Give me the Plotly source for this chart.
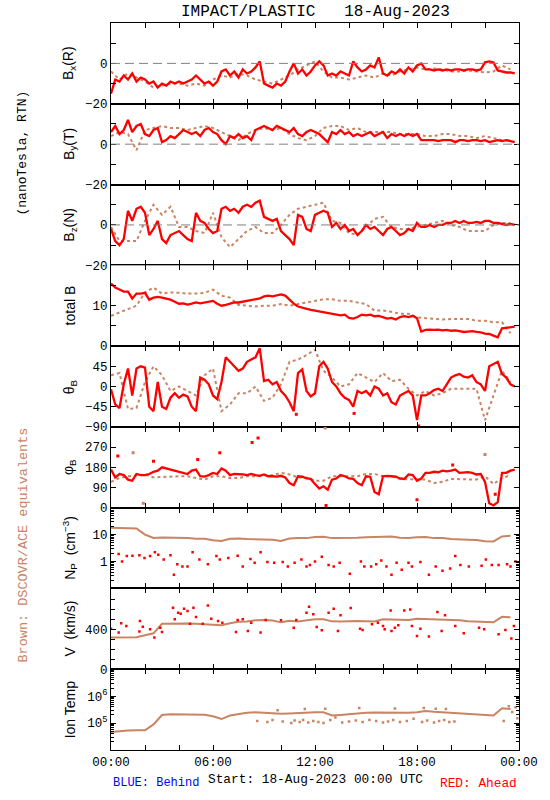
import pandas as pd
import plotly.graph_objects as go
from plotly.subplots import make_subplots

# ---------------- data ----------------
DAY0 = pd.Timestamp("2023-08-18 00:00")

# STEREO-A (red), 15-minute samples starting 00:00
red_bx = [-15, -8, -9, -6, -8, -5, -9, -7, -8, -10, -9, -12,
          -10, -11, -9, -10, -9, -10, -9, -8, -6, -8, -10, -9,
          -11, -9, -4, -3, -6, -4, -7, -3, -5, -4, -2, 1,
          -10, -11, -12, -10, -11, -9, -4, 0, -5, -3, -6, -4,
          -1, 1, -1, -6, -5, -6, -4, -5, -6, 1, -2, -4,
          -3, -1, -2, 3, -5, -6, -4, -5, -3, -5, -2, -4,
          -1, 0, -3, -3, -3.5, -3, -3.5, -3, -3.5, -3, -3, -3.5,
          -3, -3, -3.5, -3, 0.5, 1, 0.5, -3.5, -4, -4.5, -4.5, -5]
red_by = [6, 9, 5, 7, 12, 6, 9, 10, 5, 4, 7, 8,
          1, 2, 4, 3, 5, 7, 6, 5, 6, 4, 7, 8,
          6, 5, 2, 0, 4, 3, 5, 3, 4, 2, 7, 8,
          9, 8, 7, 9, 8, 7, 6, 8, 5, 4, 6, 7,
          6, 5, 3, 1, 6, 5, 7, 5, 6, 4, 5, 4,
          5, 6, 4, 5, 6, 3, 5, 4, 5, 4, 5, 4,
          5, 2, 2, 2, 2, 1.5, 2, 2, 2, 1, 2, 2,
          1.5, 2, 2, 1.5, 2, 1, 1.5, 2, 1.5, 2, 1.5, 1]
red_bz = [-2, -8, -10, -7, 7, 2, 8, 9, 6, -5, -2, 2,
          -7, -9, -5, -4, -3, -5, -7, -8, 6, 2, 1, -2,
          -4, -3, 8, 9, 7, 8, 6, 9, 10, 9, 11, 12,
          4, 3, 2, 3, -3, -5, -7, -10, 5, 4, -2, -3,
          5, 6, 7, 6, -1, 1, -2, 0, -3, -2, -5, -3,
          0, -2, -1, -3, -5, -2, -1, -3, -5, -4, -2, -3,
          1, -1, -1, 0, -1, 0, 0, 1, 1, 2, 1, 2,
          1, 1, 1.5, 1, 2, 2, 1, 1, 0.5, 0, 0.5, 0]
red_bt = [15.5, 14.5, 14, 13.5, 13.5, 11.8, 13, 13, 13.2, 11.5, 12, 12.2,
          12, 11.8, 11.5, 11, 10.5, 10.6, 10.3, 10.5, 10.8, 10.6, 10.8, 11,
          11.2, 10.5, 10, 10.2, 10.6, 10.8, 10.8, 11, 11.2, 11.3, 11.5, 11.8,
          12.3, 12.5, 12.3, 12.5, 12.8, 12.5, 11.5, 10.5, 9.8, 9.5, 9.3, 9.0,
          8.8, 8.6, 8.5, 8.2, 8.0, 7.8, 7.6, 7.8, 7.0, 6.8, 7.2, 7.8,
          7.6, 7.8, 7.4, 7.5, 7.2, 6.8, 7.0, 6.6, 7.2, 7.4, 7.2, 7.5,
          6.9, 3.6, 4.0, 4.1, 4.0, 4.1, 3.9, 4.0, 3.8, 3.9, 3.7, 3.5,
          3.6, 3.7, 3.5, 3.4, 3.1, 3.0, 2.6, 2.2, 4.4, 4.5, 4.6, 4.8]
red_th = [-6, -40, -48, 5, 40, -20, 40, 45, 42, -45, -55, 10,
          -45, -50, -25, -15, -25, -18, -22, -45, -55, 20, 15, 5,
          -20, -28, 10, 65, 55, 45, 35, 40, 55, 60, 65, 85,
          12, 15, 5, 10, -10, -20, -35, -55, 30, 38, -10, -22,
          -15, 45, 55, 40, 10, 0, -15, -25, -30, -45, -10, -15,
          -10, -20, 0, -5, -20, -15, -35, -40, -20, -15, -10, -20,
          -75, -20, -20, -15, -8, -5, -10, 5, 20, 25, 28, 22,
          20, 25, 10, 5, -10, 45, 50, 55, 28, 20, 5, 0]
red_ph = [170, 135, 150, 145, 125, 120, 150, 145, 145, 150, 160, 165,
          180, 175, 170, 165, 160, 158, 150, 165, 170, 140, 138, 145,
          155, 150, 175, 165, 145, 150, 150, 148, 145, 150, 145, 142,
          148, 140, 140, 138, 142, 135, 110, 100, 140, 138, 130, 128,
          105, 85, 95, 80, 125, 130, 145, 140, 130, 128, 110, 100,
          140, 138, 70, 60, 140, 142, 140, 138, 130, 128, 148, 145,
          120, 130, 155, 155, 160, 158, 165, 162, 165, 170, 155, 158,
          158, 155, 148, 150, 115, 20, 10, 25, 155, 155, 165, 170]

# isolated red spikes (hour, value)
red_ph_spk_h = [0.4, 2.5, 5.1, 6.4, 8.3, 8.65, 12.65, 18.0, 20.1, 22.6]
red_ph_spk = [230, 207, 215, 245, 290, 310, 10, 35, 190, 60]
red_th_spk_h = [18.1, 10.9, 14.3]
red_th_spk = [-88, -62, -60]

# sparse STEREO-A plasma points (hour, value)
red_np_h = [0.45, 0.65, 0.93, 1.26, 1.67, 1.97, 2.3, 2.58, 2.78, 3.1, 3.5, 3.7,
            3.9, 4.2, 4.5, 4.8, 5.2, 5.7, 6.2, 6.4, 6.9, 7.45, 7.75, 8.2,
            8.45, 8.8, 9.2, 9.6, 10.1, 10.4, 10.8, 11.2, 11.5, 11.7, 12.0, 12.4,
            12.8, 13.1, 13.45, 14.05, 14.7, 14.9, 15.3, 15.6, 15.9, 16.2, 16.5, 16.8,
            17.1, 17.5, 17.7, 18.2, 18.7, 19.1, 19.5, 19.95, 20.25, 20.55, 21.05, 21.8,
            22.05, 22.4, 22.8, 23.3, 23.5, 23.8]
red_np = [1.9, 1.0, 1.6, 1.65, 1.7, 1.35, 1.6, 2.2, 1.8, 1.2, 1.7, 0.32,
          0.8, 0.65, 0.65, 2.2, 1.2, 0.8, 1.6, 1.2, 1.35, 1.65, 0.65, 1.25,
          0.9, 2.2, 0.95, 0.9, 0.95, 0.65, 0.9, 1.2, 0.65, 0.75, 1.0, 1.5,
          0.75, 0.65, 0.9, 0.35, 1.0, 0.65, 0.65, 0.8, 1.1, 0.65, 0.32, 0.9,
          0.5, 0.9, 0.65, 0.95, 0.32, 0.65, 0.45, 0.55, 1.6, 0.75, 0.65, 0.7,
          1.2, 0.75, 0.75, 0.8, 0.65, 1.0]
red_v_h = [0.0, 0.45, 0.6, 0.9, 1.67, 1.7, 1.87, 2.3, 2.55, 2.9, 3.0, 3.65,
           3.75, 3.95, 4.1, 4.3, 4.5, 4.85, 4.65, 5.0, 5.4, 5.7, 5.9, 6.3,
           6.55, 7.35, 7.45, 7.75, 8.05, 8.25, 8.8, 9.1, 10.0, 10.75, 10.9, 11.5,
           11.65, 11.9, 12.1, 12.4, 12.8, 13.1, 13.35, 13.5, 14.1, 14.65, 14.8, 15.35,
           15.7, 16.0, 16.1, 16.45, 16.5, 16.7, 16.9, 17.25, 17.6, 17.7, 18.0, 18.2,
           18.7, 19.2, 19.45, 19.65, 20.25, 20.75, 21.65, 21.95, 22.8, 23.2, 23.55, 23.7]
red_v = [407, 367, 460, 433, 377, 483, 427, 400, 317, 417, 373, 617,
         500, 567, 557, 607, 583, 617, 457, 523, 457, 640, 507, 483,
         467, 373, 493, 500, 383, 467, 367, 493, 490, 417, 493, 567,
         627, 550, 423, 390, 567, 607, 383, 540, 613, 407, 393, 450,
         467, 433, 400, 590, 383, 417, 440, 590, 600, 433, 333, 407,
         327, 573, 383, 540, 433, 360, 417, 400, 350, 393, 307, 433]

# DSCOVR/ACE equivalents (brown), 30-minute samples starting 00:00
brn_bx = [-4, -8, -5, -7, -9, -12, -11, -10, -10, -11, -10, -11,
          -8, -6, -7, -5, -6, -8, -9, -10, -8, -6, -3, -1,
          1, -4, -7, -7, -8, -7, -6, -7, -5, -6, -4, -3,
          -2, -3, -2.5, -3, -4, -4, -3.5, -4, -4.5, -4, -1, -3]
brn_by = [4, 6, 5, -3, 7, 8, 9, 8, 8, 7, 8, 9,
          8, 6, 4, 2, 5, 7, 8, 7, 8, 5, 3, 2,
          4, 8, 9, 9, 7, 8, 6, 6, 6, 6, 5, 5,
          5, 4, 4, 5, 5, 4, 4, 3, 4, 3, 2, 2]
brn_bz = [-1, -8, -8, -8, 2, 10, 5, 9, -1, -1, -3, -4,
          6, -6, -11, -7, -3, -1, -4, -4, 0, 5, 8, 9,
          10, 11, 2, 1, -4, -5, -1, 3, 4, -1, -2, -2,
          -1, 0, 1, 2, 0, -1, -3, -3, -3, 0, 1, 1]
brn_bt = [7.5, 8.3, 9.2, 10, 13.3, 14.5, 13, 13.3, 13.2, 13, 13, 13.2,
          14, 12.5, 12, 10.2, 10, 9.8, 10, 10, 10.4, 10, 10.4, 10.8,
          11.2, 11.6, 11.6, 11.2, 11.2, 10.8, 10.4, 8.8, 8.8, 8.5, 8, 8,
          7.1, 6.9, 6.7, 6.6, 6.7, 6.7, 6.7, 6.3, 6.3, 5.9, 5.9, 3.2]
brn_th = [25, 30, -50, -48, 10, 45, 25, -10, 0, -10, -20, 25,
          40, -55, -40, -15, -15, 0, -32, -25, 5, 55, 60, 70,
          82, 35, 20, 0, 5, 30, 20, 10, 30, 12, 15, -5,
          -20, -10, -20, -15, -5, -5, -5, -5, -75, -20, 35, 10]
brn_ph = [115, 132, 140, 145, 148, 135, 137, 140, 140, 140, 132, 125,
          140, 140, 132, 132, 140, 140, 145, 145, 155, 148, 135, 135,
          120, 120, 140, 140, 140, 140, 150, 150, 140, 140, 128, 128,
          125, 125, 110, 115, 128, 128, 125, 125, 140, 105, 132, 145]
brn_ph_spk_h = [1.3, 1.9, 12.6, 22.0]
brn_ph_spk = [245, 20, 355, 237]
brn_np = [18, 17.5, 17, 17, 10, 7.5, 7.8, 7.8, 7.5, 7.4, 7, 7,
          6.2, 5.8, 7, 7.2, 6.8, 6.8, 6.5, 6.4, 5.8, 7.2, 7.4, 7.4,
          8.2, 8.3, 7.4, 7.4, 7.4, 7.6, 8, 8, 8.3, 8.5, 7.6, 7.4,
          8, 8.2, 7.4, 7.4, 6.8, 6.8, 6.5, 6.3, 5.7, 5.6, 8.5, 9]
brn_v = [317, 317, 315, 320, 340, 360, 455, 458, 458, 458, 455, 452,
         445, 440, 460, 475, 478, 490, 493, 488, 470, 485, 478, 492,
         500, 500, 480, 478, 482, 483, 480, 478, 500, 498, 493, 493,
         507, 505, 500, 500, 493, 490, 480, 478, 478, 470, 525, 520]
brn_ti = [46800, 50100, 52500, 53700, 54000, 89000, 200000, 214000, 214000, 214000, 209000, 204000,
          178000, 141000, 191000, 214000, 240000, 251000, 240000, 229000, 224000, 229000, 240000, 245000,
          251000, 251000, 191000, 200000, 214000, 229000, 240000, 245000, 240000, 240000, 234000, 240000,
          251000, 282000, 263000, 251000, 245000, 240000, 229000, 214000, 200000, 191000, 355000, 330000]
brn_ti_sc_h = [8.6, 9.2, 9.5, 10.1, 10.6, 10.8, 11.1, 11.3, 11.6, 11.9, 12.2, 12.5,
               12.9, 13.2, 13.6, 14.0, 14.4, 14.8, 15.2, 15.6, 16.0, 16.3, 16.6, 17.0,
               17.4, 17.8, 18.3, 18.6, 19.0, 19.3, 19.6, 19.9, 20.2, 23.1, 23.6, 23.9,
               9.8, 11.4, 12.6, 14.6, 16.7, 18.4, 19.1, 19.7, 23.4, 23.8]
brn_ti_sc = [120000, 110000, 130000, 115000, 100000, 125000, 110000, 130000, 105000, 120000, 110000, 100000,
             130000, 160000, 105000, 115000, 125000, 110000, 130000, 120000, 105000, 115000, 130000, 110000,
             120000, 145000, 110000, 125000, 105000, 120000, 130000, 110000, 115000, 120000, 260000, 150000,
             300000, 330000, 340000, 360000, 350000, 360000, 340000, 330000, 420000, 390000]

# ---------------- helpers ----------------
def times(step_min, n):
    return [DAY0 + pd.Timedelta(minutes=step_min * k) for k in range(n)]


def at_hours(hours):
    return [DAY0 + pd.Timedelta(hours=h) for h in hours]


RED = "#ff0000"
BROWN = "#c98463"
SANS = "Liberation Sans"
MONO = "Liberation Mono"

fig = make_subplots(rows=9, cols=1, shared_xaxes=True, vertical_spacing=0)


def red_line(vals, row):
    fig.add_trace(go.Scatter(x=times(15, len(vals)), y=vals, mode="lines",
                             line=dict(color=RED, width=2.3)), row=row, col=1)


def brown_dots(vals, row, step=30):
    fig.add_trace(go.Scatter(x=times(step, len(vals)), y=vals, mode="lines",
                             line=dict(color=BROWN, width=2, dash="dot")), row=row, col=1)


def pts(h, vals, row, color, size=3):
    fig.add_trace(go.Scatter(x=at_hours(h), y=vals, mode="markers",
                             marker=dict(color=color, size=size, symbol="square", line=dict(width=0))),
                  row=row, col=1)


# magnetic field panels
brown_dots(brn_bx, 1); red_line(red_bx, 1)
brown_dots(brn_by, 2); red_line(red_by, 2)
brown_dots(brn_bz, 3); red_line(red_bz, 3)
brown_dots(brn_bt, 4); red_line(red_bt, 4)
brown_dots(brn_th, 5); red_line(red_th, 5); pts(red_th_spk_h, red_th_spk, 5, RED)
brown_dots(brn_ph, 6); pts(brn_ph_spk_h, brn_ph_spk, 6, BROWN)
red_line(red_ph, 6); pts(red_ph_spk_h, red_ph_spk, 6, RED)

# plasma panels
fig.add_trace(go.Scatter(x=times(30, len(brn_np)), y=brn_np, mode="lines",
                         line=dict(color=BROWN, width=2)), row=7, col=1)
pts(red_np_h, red_np, 7, RED, 2.5)
fig.add_trace(go.Scatter(x=times(30, len(brn_v)), y=brn_v, mode="lines",
                         line=dict(color=BROWN, width=2)), row=8, col=1)
pts(red_v_h, red_v, 8, RED, 2.5)
fig.add_trace(go.Scatter(x=times(30, len(brn_ti)), y=brn_ti, mode="lines",
                         line=dict(color=BROWN, width=2)), row=9, col=1)
pts(brn_ti_sc_h, brn_ti_sc, 9, BROWN, 2.5)

# dashed zero lines in the component panels
for r in (1, 2, 3):
    fig.add_hline(y=0, row=r, col=1, line=dict(color="#808080", width=1, dash="9px,5px"))

# ---------------- axes ----------------
axis_common = dict(showline=True, linecolor="black", linewidth=1, mirror="ticks",
                   ticks="inside", ticklen=5, tickcolor="black", showgrid=False,
                   zeroline=False, tickfont=dict(family=MONO, size=12.5, color="black"))

fig.update_xaxes(range=[DAY0, DAY0 + pd.Timedelta(hours=24)], dtick=6 * 3600 * 1000,
                 tickformat="%H:%M",
                 minor=dict(dtick=2 * 3600 * 1000, ticks="inside", ticklen=5, tickcolor="black"),
                 **axis_common)


def minor(vals, ln=5):
    return dict(tickvals=vals, ticks="inside", ticklen=ln, tickcolor="black")


decades_np = [m * d for d in (0.1, 1, 10) for m in range(2, 10)]
decades_t = [m * d for d in (1e4, 1e5, 1e6) for m in range(2, 10)]

yspecs = [
    dict(range=[-20, 20], tickvals=[-20, 0], ticktext=["−20", "0"], minor=minor([-10, 10])),
    dict(range=[-20, 20], tickvals=[-20, 0], ticktext=["−20", "0"], minor=minor([-10, 10])),
    dict(range=[-20, 20], tickvals=[-20, 0], ticktext=["−20", "0"], minor=minor([-10, 10])),
    dict(range=[0, 20], tickvals=[0, 10], ticktext=["0", "10"], minor=minor([5, 15])),
    dict(range=[-90, 90], tickvals=[-90, -45, 0, 45], ticktext=["−90", "−45", "0", "45"]),
    dict(range=[0, 360], tickvals=[0, 90, 180, 270], ticktext=["0", "90", "180", "270"]),
    dict(type="log", range=[-1, 2], tickvals=[1, 10], ticktext=["1", "10"],
         minor=minor(decades_np, 3)),
    dict(range=[0, 810], tickvals=[0, 400], ticktext=["0", "400"],
         minor=minor([100, 200, 300, 500, 600, 700, 800], 4)),
    dict(type="log", range=[4, 7], tickvals=[1e5, 1e6], ticktext=["10<sup>5</sup>", "10<sup>6</sup>"],
         minor=minor(decades_t, 3)),
]
for i, spec in enumerate(yspecs, start=1):
    fig.update_yaxes(row=i, col=1, **axis_common, **spec)

# ---------------- texts ----------------
ytitles = ["B<sub>x</sub>(R)", "B<sub>y</sub>(T)", "B<sub>z</sub>(N)", "total B",
           "θ<sub>B</sub>", "φ<sub>B</sub>", "N<sub>P</sub>  (cm<sup>−3</sup>)",
           "V  (km/s)", "Ion Temp"]
annotations = []
for i, txt in enumerate(ytitles, start=1):
    yref = "y domain" if i == 1 else f"y{i} domain"
    annotations.append(dict(text=txt, xref="paper", x=-42 / 415, yref=yref, y=0.5,
                            textangle=-90, showarrow=False, xanchor="center", yanchor="middle",
                            font=dict(family=SANS, size=14, color="black")))


def py(pix):  # page pixel row -> paper coordinate
    return (750 - pix) / 727


annotations += [
    dict(text="(nanoTesla, RTN)", xref="paper", x=-90 / 415, yref="paper", y=py(153),
         textangle=-90, showarrow=False, xanchor="center", yanchor="middle",
         font=dict(family=MONO, size=13, color="black")),
    dict(text="Brown: DSCOVR/ACE equivalents", xref="paper", x=-90 / 415, yref="paper",
         y=py(545), textangle=-90, showarrow=False, xanchor="center", yanchor="middle",
         font=dict(family=MONO, size=13.5, color=BROWN)),
    dict(text="IMPACT/PLASTIC   18-Aug-2023", xref="paper", x=0.5, yref="paper",
         y=py(12), showarrow=False, xanchor="center", yanchor="middle",
         font=dict(family=MONO, size=16, color="black")),
    dict(text="BLUE: Behind", xref="paper", x=0, yref="paper", y=py(783),
         showarrow=False, xanchor="left", yanchor="middle",
         font=dict(family=MONO, size=12, color="#0000ff")),
    dict(text="Start: 18-Aug-2023 00:00 UTC", xref="paper", x=0.5, yref="paper",
         y=py(780), showarrow=False, xanchor="center", yanchor="middle",
         font=dict(family=MONO, size=12.8, color="black")),
    dict(text="RED: Ahead", xref="paper", x=1, yref="paper", y=py(783),
         showarrow=False, xanchor="right", yanchor="middle",
         font=dict(family=MONO, size=12.8, color=RED)),
]

fig.update_layout(width=550, height=800, margin=dict(l=111, r=24, t=23, b=50),
                  plot_bgcolor="white", paper_bgcolor="white", showlegend=False,
                  hovermode=False, annotations=annotations,
                  font=dict(family=MONO, size=13, color="black"))

# remove the browser's default 8px body margin so the 550x800 figure fills the window
fig.write_html("out.html", config={"displayModeBar": False, "staticPlot": True},
               post_script="document.body.style.margin='0px';")
